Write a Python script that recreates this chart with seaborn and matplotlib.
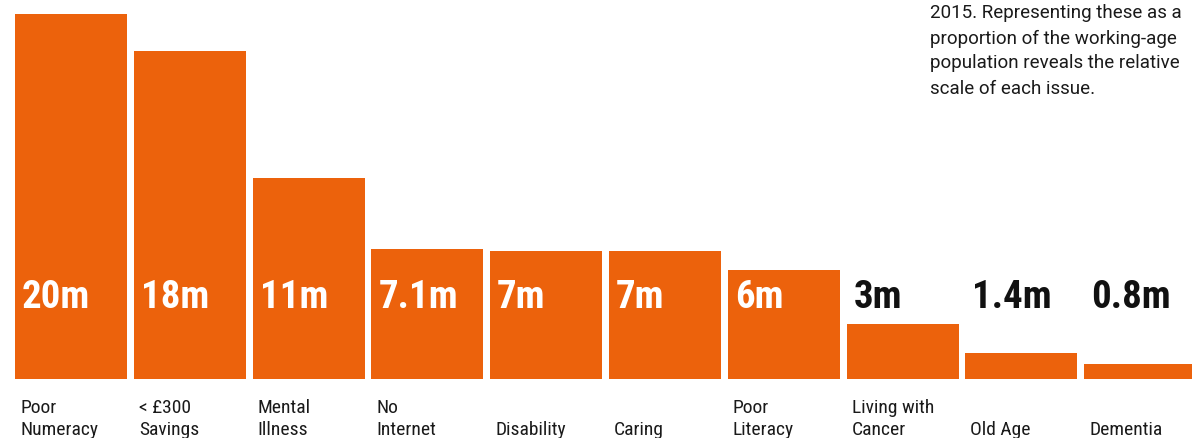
import matplotlib
matplotlib.use("Agg")
import matplotlib.pyplot as plt
from matplotlib import font_manager
import seaborn as sns
import pandas as pd

# ---- data -------------------------------------------------------------
categories = ["Poor\nNumeracy", "< £300\nSavings", "Mental\nIllness", "No\nInternet",
              "Disability", "Caring", "Poor\nLiteracy", "Living with\nCancer",
              "Old Age", "Dementia"]
values_m = [20, 18, 11, 7.1, 7, 7, 6, 3, 1.4, 0.8]
value_labels = ["20m", "18m", "11m", "7.1m", "7m", "7m", "6m", "3m", "1.4m", "0.8m"]
note_lines = ["2015. Representing these as a",
              "proportion of the working-age",
              "population reveals the relative",
              "scale of each issue."]

ORANGE = "#EC620C"
INK = "#111111"


def pick_font(*names):
    for n in names:
        try:
            font_manager.findfont(font_manager.FontProperties(family=n),
                                  fallback_to_default=False)
            return n
        except Exception:
            continue
    return "DejaVu Sans"


narrow = pick_font("Roboto Condensed", "Archivo Narrow", "PT Sans Narrow",
                   "Liberation Sans Narrow", "Roboto")
body = pick_font("Roboto", "DejaVu Sans")

sns.set_theme(style="white")
plt.rcParams["font.family"] = [narrow, "DejaVu Sans"]

df = pd.DataFrame({"cat": categories, "val": values_m})

fig = plt.figure(figsize=(11.92, 4.39), dpi=100)
ax = fig.add_axes([0, 0, 1, 1])

bar_w = 0.943
sns.barplot(data=df, x="cat", y="val", color=ORANGE, saturation=1,
            width=bar_w, ax=ax, edgecolor="none")

# layout: pixel geometry of the canvas
px_per_unit_x = 118.8
px_per_m = 18.25
left_px = 15 + bar_w * px_per_unit_x / 2
ax.set_xlim(-left_px / px_per_unit_x, (1192 - left_px) / px_per_unit_x)
base_px = 380
ax.set_ylim(-(439 - base_px) / px_per_m, base_px / px_per_m)
ax.axis("off")

# value labels: white inside tall bars, black above the short ones
label_y = (base_px - 307.5) / px_per_m
for i, (v, lab) in enumerate(zip(values_m, value_labels)):
    inside = v > label_y + 1.8
    ax.text(i - bar_w / 2 + 7 / px_per_unit_x, label_y, lab,
            ha="left", va="baseline", fontsize=28, fontweight="bold",
            color="white" if inside else INK)

# category names under the bars, bottom-aligned
line2_y = -(435 - base_px) / px_per_m
line_step = 22 / px_per_m
for i, cat in enumerate(categories):
    lines = cat.split("\n")
    for k, line in enumerate(reversed(lines)):
        ax.text(i - bar_w / 2 + 5 / px_per_unit_x, line2_y + k * line_step, line,
                ha="left", va="baseline", fontsize=14, color="#1a1a1a")

# explanatory note, top right
for k, line in enumerate(note_lines):
    fig.text(930 / 1192, 1 - (18.5 + k * 25) / 439, line,
             ha="left", va="baseline", fontsize=13.5, color="#1a1a1a",
             family=[body, "DejaVu Sans"])

fig.savefig("out.png", dpi=100)
